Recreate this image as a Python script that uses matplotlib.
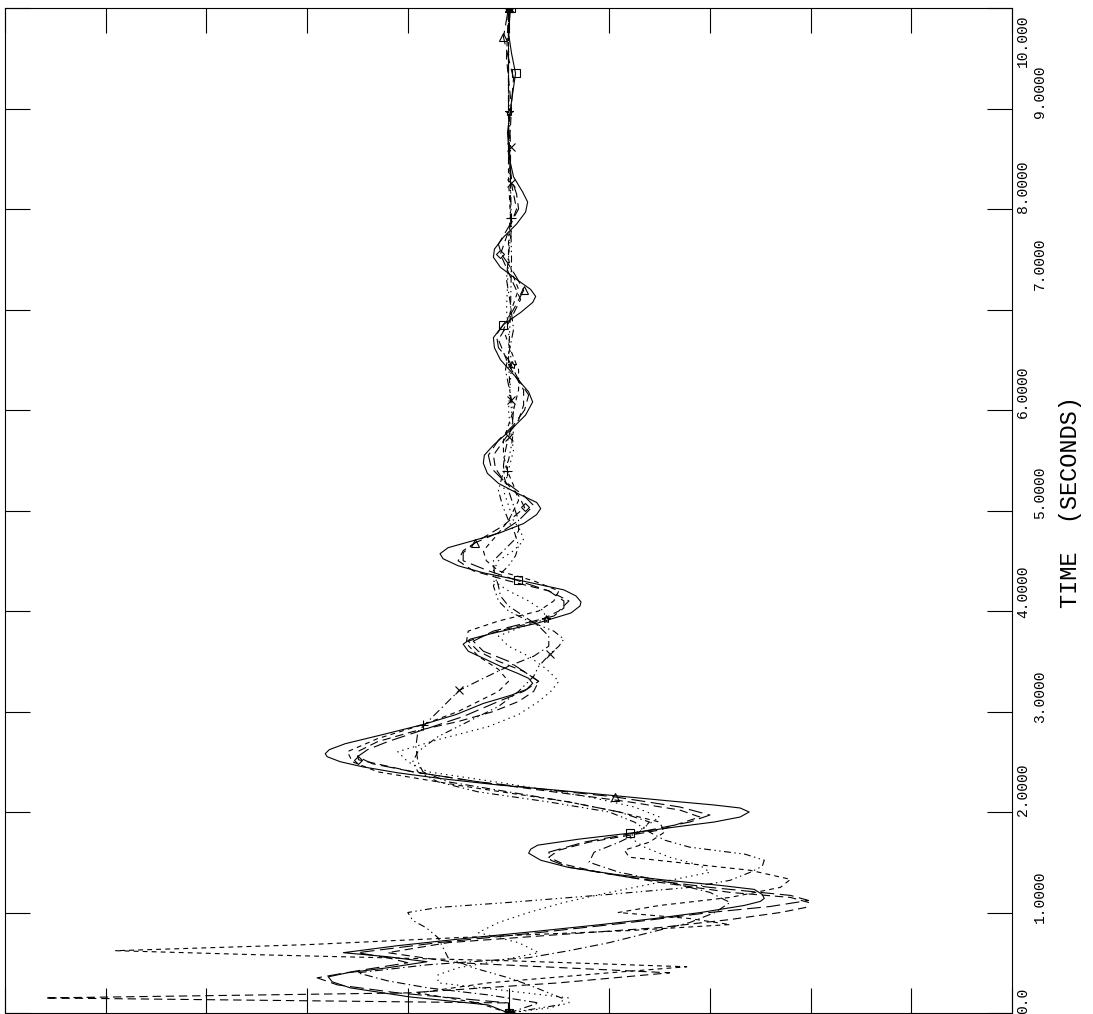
import matplotlib
matplotlib.use('Agg')
import matplotlib.pyplot as plt
import matplotlib.transforms as mtransforms

plt.rcParams['font.family'] = ['Liberation Mono', 'DejaVu Sans Mono']
plt.rcParams['lines.scale_dashes'] = False

# series 1: solid line, square symbols
t1 = [0.00, 0.08, 0.16, 0.25, 0.31, 0.36, 0.40, 0.45, 0.51, 0.56, 0.60, 0.67, 0.74, 0.81,
      0.88, 0.94, 1.00, 1.07, 1.11, 1.14, 1.18, 1.23, 1.27, 1.32, 1.38, 1.45, 1.52, 1.59,
      1.63, 1.67, 1.73, 1.79, 1.85, 1.90, 1.95, 2.00, 2.04, 2.07, 2.11, 2.16, 2.22, 2.27,
      2.33, 2.39, 2.45, 2.50, 2.55, 2.58, 2.62, 2.68, 2.77, 2.87, 2.97, 3.08, 3.16, 3.22,
      3.28, 3.33, 3.38, 3.45, 3.53, 3.60, 3.67, 3.72, 3.78, 3.88, 3.98, 4.05, 4.09, 4.15,
      4.21, 4.31, 4.38, 4.45, 4.52, 4.57, 4.63, 4.70, 4.78, 4.87, 4.96, 5.02, 5.08, 5.17,
      5.27, 5.37, 5.47, 5.55, 5.65, 5.80, 5.95, 6.08, 6.18, 6.32, 6.50, 6.62, 6.72, 6.85,
      6.97, 7.07, 7.13, 7.20, 7.30, 7.42, 7.52, 7.60, 7.72, 7.85, 7.97, 8.07, 8.17, 8.32,
      8.50, 8.76, 9.00, 9.35, 9.55, 9.75, 10.00]
x1 = [0.00, -0.20, -0.98, -1.57, -1.75, -1.79, -1.60, -1.20, -0.81, -1.20, -1.64, -1.10, -0.45, 0.25,
      0.92, 1.45, 1.91, 2.34, 2.50, 2.54, 2.52, 2.44, 2.10, 1.58, 1.05, 0.59, 0.32, 0.20,
      0.22, 0.29, 0.70, 1.21, 1.65, 2.04, 2.30, 2.39, 2.30, 2.04, 1.60, 1.08, 0.45, -0.11,
      -0.65, -1.10, -1.45, -1.67, -1.80, -1.82, -1.78, -1.62, -1.25, -0.85, -0.52, -0.25, 0.02, 0.18,
      0.24, 0.20, 0.09, -0.08, -0.25, -0.40, -0.45, -0.38, -0.15, 0.29, 0.62, 0.71, 0.72, 0.67,
      0.55, 0.09, -0.25, -0.50, -0.65, -0.68, -0.60, -0.35, -0.08, 0.15, 0.28, 0.32, 0.28, 0.09,
      -0.10, -0.21, -0.25, -0.24, -0.15, 0.02, 0.17, 0.24, 0.20, 0.08, -0.08, -0.14, -0.15, -0.05,
      0.12, 0.24, 0.27, 0.22, 0.08, -0.08, -0.15, -0.14, -0.05, 0.08, 0.17, 0.19, 0.14, 0.05,
      0.01, -0.01, 0.02, 0.07, 0.03, 0.00, 0.02]
m1 = [0.00, 1.79, 4.31, 6.85, 9.35, 10.00]

# series 2: long dash, triangles
t2 = [0.00, 0.10, 0.20, 0.28, 0.35, 0.42, 0.50, 0.55, 0.60, 0.70, 0.80, 0.90, 1.00, 1.06,
      1.12, 1.17, 1.25, 1.35, 1.45, 1.52, 1.60, 1.70, 1.80, 1.90, 1.97, 2.05, 2.15, 2.22,
      2.30, 2.40, 2.48, 2.55, 2.62, 2.70, 2.80, 2.95, 3.10, 3.20, 3.30, 3.40, 3.50, 3.60,
      3.70, 3.80, 3.95, 4.03, 4.10, 4.20, 4.30, 4.40, 4.50, 4.58, 4.68, 4.80, 4.90, 5.05,
      5.15, 5.30, 5.42, 5.55, 5.70, 5.85, 6.00, 6.15, 6.30, 6.50, 6.62, 6.75, 6.88, 7.00,
      7.19, 7.32, 7.45, 7.55, 7.65, 7.82, 8.00, 8.15, 8.30, 8.55, 8.80, 9.05, 9.30, 9.50,
      9.71, 10.00]
x2 = [0.00, 0.00, -1.10, -1.70, -1.90, -1.50, -1.00, -1.20, -1.50, -0.70, 0.30, 1.20, 2.00, 2.60,
      2.98, 2.80, 2.00, 1.20, 0.60, 0.42, 0.40, 0.75, 1.30, 1.80, 2.00, 1.70, 1.06, 0.40,
      -0.30, -0.95, -1.35, -1.50, -1.40, -1.20, -0.90, -0.45, -0.10, 0.15, 0.30, 0.15, 0.00, -0.25,
      -0.35, -0.15, 0.45, 0.55, 0.55, 0.40, 0.10, -0.20, -0.45, -0.45, -0.33, -0.05, 0.10, 0.25,
      0.15, -0.05, -0.17, -0.20, -0.10, 0.05, 0.16, 0.20, 0.10, 0.00, -0.10, -0.12, -0.03, 0.05,
      0.15, 0.08, 0.00, -0.07, -0.10, 0.00, 0.10, 0.08, 0.03, 0.00, 0.00, 0.03, 0.05, 0.00,
      -0.05, 0.00]
m2 = [0.00, 2.15, 4.68, 7.19, 9.71, 10.00]

# series 3: medium dash, diamonds
t3 = [0.00, 0.10, 0.15, 0.20, 0.30, 0.40, 0.50, 0.60, 0.70, 0.78, 0.85, 0.93, 1.00, 1.05,
      1.10, 1.15, 1.20, 1.30, 1.40, 1.48, 1.55, 1.62, 1.70, 1.82, 1.95, 2.02, 2.10, 2.20,
      2.30, 2.40, 2.52, 2.60, 2.70, 2.80, 2.90, 3.00, 3.10, 3.20, 3.30, 3.40, 3.50, 3.60,
      3.70, 3.80, 3.90, 4.00, 4.10, 4.20, 4.30, 4.40, 4.50, 4.60, 4.70, 4.85, 5.03, 5.15,
      5.30, 5.42, 5.55, 5.72, 5.90, 6.05, 6.20, 6.45, 6.70, 6.90, 7.10, 7.30, 7.55, 7.78,
      8.00, 8.25, 8.50, 9.00, 9.50, 10.00]
x3 = [0.00, 0.00, -4.60, -1.00, 0.50, 1.60, -0.50, -1.20, -0.60, 0.50, 1.50, 2.20, 2.70, 2.95,
      2.98, 2.80, 2.20, 1.50, 0.90, 0.55, 0.40, 0.50, 0.80, 1.50, 1.90, 1.70, 1.20, 0.45,
      -0.30, -0.95, -1.49, -1.50, -1.30, -0.95, -0.50, -0.15, 0.10, 0.25, 0.30, 0.15, -0.10, -0.30,
      -0.40, -0.10, 0.30, 0.50, 0.60, 0.40, 0.00, -0.35, -0.50, -0.45, -0.30, -0.05, 0.16, 0.10,
      -0.05, -0.13, -0.15, -0.03, 0.10, 0.15, 0.15, 0.00, -0.10, 0.02, 0.12, 0.03, -0.08, 0.00,
      0.08, 0.03, 0.00, 0.03, -0.02, 0.00]
m3 = [0.00, 2.52, 5.03, 7.55, 10.00]

# series 4: short dash, plus signs
t4 = [0.00, 0.10, 0.20, 0.30, 0.40, 0.46, 0.52, 0.58, 0.62, 0.68, 0.75, 0.82, 0.88, 0.94,
      1.00, 1.07, 1.15, 1.25, 1.33, 1.42, 1.55, 1.62, 1.70, 1.80, 1.90, 2.00, 2.10, 2.25,
      2.40, 2.50, 2.60, 2.73, 2.87, 3.00, 3.10, 3.20, 3.30, 3.42, 3.55, 3.68, 3.80, 3.90,
      4.00, 4.10, 4.20, 4.30, 4.40, 4.50, 4.60, 4.75, 4.90, 5.10, 5.25, 5.39, 5.55, 5.70,
      5.85, 6.00, 6.20, 6.40, 6.60, 6.80, 7.00, 7.20, 7.35, 7.50, 7.70, 7.91, 8.30, 9.00,
      10.00]
x4 = [0.00, -0.30, -0.90, -0.20, 1.00, 1.77, 0.00, -2.50, -3.90, -2.00, -0.50, 1.20, 2.20, 1.80,
      1.09, 1.50, 2.20, 2.70, 2.80, 2.40, 1.20, 1.15, 1.40, 1.55, 1.50, 1.10, 0.60, -0.40,
      -1.30, -1.55, -1.60, -1.30, -0.85, -0.50, -0.30, -0.10, 0.00, -0.10, -0.30, -0.42, -0.40, -0.10,
      0.30, 0.45, 0.50, 0.25, -0.10, -0.22, -0.25, -0.12, 0.00, 0.10, 0.05, -0.01, -0.05, -0.05,
      0.00, 0.05, 0.10, 0.10, 0.02, -0.05, 0.03, 0.10, 0.04, 0.00, 0.00, 0.02, 0.00, 0.00,
      0.00]
m4 = [0.00, 2.87, 5.39, 7.91, 10.00]

# series 5: dash-dot, crosses
t5 = [0.00, 0.10, 0.18, 0.25, 0.32, 0.40, 0.48, 0.55, 0.62, 0.70, 0.80, 0.90, 1.00, 1.10,
      1.20, 1.30, 1.40, 1.50, 1.60, 1.70, 1.80, 1.90, 2.00, 2.10, 2.20, 2.30, 2.40, 2.50,
      2.65, 2.80, 3.00, 3.21, 3.33, 3.45, 3.55, 3.65, 3.75, 3.85, 3.95, 4.05, 4.15, 4.25,
      4.38, 4.50, 4.60, 4.70, 4.80, 4.90, 5.05, 5.20, 5.32, 5.45, 5.60, 5.73, 5.87, 6.00,
      6.20, 6.40, 6.60, 6.80, 7.05, 7.30, 7.55, 7.80, 8.26, 9.00, 10.00]
x5 = [0.00, 0.30, -0.20, -0.80, -1.20, -1.50, -0.80, 0.20, 0.60, 1.00, 1.40, 1.80, 2.05, 2.20,
      2.00, 1.60, 1.10, 0.80, 0.85, 1.10, 1.30, 1.40, 1.10, 0.60, 0.00, -0.60, -0.85, -0.90,
      -0.92, -0.90, -0.70, -0.49, -0.25, 0.00, 0.25, 0.40, 0.40, 0.30, 0.15, 0.00, -0.08, -0.10,
      -0.14, -0.15, -0.05, 0.05, 0.10, 0.10, 0.05, 0.00, -0.04, -0.05, -0.03, 0.00, 0.04, 0.05,
      0.01, -0.03, 0.01, 0.05, 0.02, -0.02, 0.00, 0.03, 0.02, 0.00, 0.00]
m5 = [0.00, 3.21, 5.73, 8.26, 10.00]

# series 6: dash-dot-dot, crosses
t6 = [0.00, 0.08, 0.14, 0.20, 0.28, 0.35, 0.45, 0.55, 0.65, 0.75, 0.85, 0.92, 1.00, 1.05,
      1.10, 1.18, 1.25, 1.32, 1.40, 1.46, 1.52, 1.58, 1.65, 1.72, 1.80, 1.90, 2.00, 2.10,
      2.20, 2.30, 2.40, 2.50, 2.60, 2.75, 2.90, 3.05, 3.20, 3.35, 3.45, 3.57, 3.65, 3.72,
      3.80, 3.90, 4.00, 4.10, 4.25, 4.35, 4.45, 4.55, 4.65, 4.78, 4.90, 5.05, 5.20, 5.35,
      5.50, 5.65, 5.80, 6.10, 6.50, 7.00, 7.50, 8.00, 8.62, 9.20, 10.00]
x6 = [0.00, 0.50, 0.55, 0.40, 0.20, 0.00, -0.35, -0.60, -0.65, -0.70, -0.82, -0.95, -1.00, -0.70,
      0.00, 1.00, 1.80, 2.20, 2.40, 2.52, 2.54, 2.35, 1.80, 1.55, 1.40, 1.25, 1.00, 0.40,
      -0.30, -0.70, -0.90, -0.95, -0.90, -0.70, -0.40, -0.10, 0.10, 0.25, 0.30, 0.41, 0.50, 0.55,
      0.45, 0.20, 0.00, -0.10, -0.15, -0.10, 0.00, 0.07, 0.10, 0.06, 0.00, -0.06, -0.10, -0.06,
      0.00, 0.03, 0.05, 0.02, 0.00, 0.02, 0.03, 0.02, 0.02, 0.00, 0.00]
m6 = [0.00, 3.57, 6.10, 8.62, 10.00]

# series 7: dotted, stars
t7 = [0.00, 0.05, 0.10, 0.15, 0.22, 0.30, 0.38, 0.45, 0.52, 0.60, 0.70, 0.80, 0.90, 1.00,
      1.10, 1.20, 1.30, 1.40, 1.47, 1.55, 1.65, 1.75, 1.85, 1.95, 2.05, 2.15, 2.28, 2.40,
      2.50, 2.60, 2.72, 2.85, 2.97, 3.10, 3.20, 3.30, 3.42, 3.55, 3.65, 3.75, 3.83, 3.92,
      4.00, 4.10, 4.20, 4.30, 4.40, 4.50, 4.60, 4.70, 4.80, 4.90, 5.05, 5.20, 5.40, 5.60,
      5.80, 6.00, 6.45, 7.00, 7.50, 8.00, 8.97, 10.00]
x7 = [0.00, 0.40, 0.60, 0.60, 0.00, -0.70, -0.70, -0.50, -0.10, 0.30, 0.10, -0.30, -0.10, 0.20,
      0.55, 1.00, 1.50, 2.00, 1.90, 1.60, 1.35, 1.20, 1.35, 1.50, 1.25, 0.80, 0.00, -0.80,
      -1.00, -1.10, -0.70, -0.20, 0.10, 0.30, 0.42, 0.50, 0.38, 0.20, 0.00, -0.10, 0.10, 0.37,
      0.35, 0.20, 0.00, -0.15, -0.15, -0.10, 0.05, 0.15, 0.12, 0.05, 0.00, -0.05, 0.00, 0.05,
      0.02, 0.00, 0.03, -0.02, 0.00, 0.02, 0.00, 0.00]
m7 = [0.00, 3.92, 6.45, 8.97, 10.00]

time_ticks = [0, 1, 2, 3, 4, 5, 6, 7, 8, 9, 10]
time_labels = ['0.0', '1.0000', '2.0000', '3.0000', '4.0000', '5.0000',
               '6.0000', '7.0000', '8.0000', '9.0000', '10.000']

series = [(t1, x1, m1), (t2, x2, m2), (t3, x3, m3), (t4, x4, m4),
          (t5, x5, m5), (t6, x6, m6), (t7, x7, m7)]
dash_styles = ['-', (0, (10, 4)), (0, (6, 3.5)), (0, (3.5, 3)),
               (0, (6, 2.5, 1, 2.5)), (0, (5, 2.5, 1, 2.5, 1, 2.5)), (0, (1, 3))]
symbols = ['s', '^', 'D', '+', 'x', 'x', '*']
symbol_sizes = [6, 6, 4.5, 7, 6, 6, 6]

fig = plt.figure(figsize=(10.93, 10.14), dpi=100)
ax = fig.add_axes([5 / 1093, 1.0 / 1014, 1007 / 1093, 1005 / 1014])

for (tt, xx, mk), ls, sym, ms in zip(series, dash_styles, symbols, symbol_sizes):
    # symbols sit on the data points at the listed times
    idx = [tt.index(v) for v in mk]
    ax.plot(xx, tt, color='black', lw=0.8, linestyle=ls)
    ax.plot(xx, tt, linestyle='none', marker=sym, ms=ms, mfc='none',
            mec='black', mew=0.8, markevery=idx)

ax.set_xlim(-5, 5)
ax.set_ylim(0, 10)
ax.set_xticks(range(-5, 6))
ax.set_yticks(time_ticks)
ax.tick_params(direction='in', length=18, width=0.8, top=True, right=True,
               labelbottom=False, labelleft=False)
for s in ax.spines.values():
    s.set_linewidth(0.8)

# staggered, rotated time labels to the right of the frame
label_x = [1.011, 1.028]
label_shift = [0.12, 0.16, 0.22, 0.15, 0.19, 0.18, 0.18, 0.46, 0.22, 0.17, -0.33]
trans = mtransforms.blended_transform_factory(ax.transAxes, ax.transData)
for i, (v, lab) in enumerate(zip(time_ticks, time_labels)):
    ax.text(label_x[i % 2], v + label_shift[i], lab, transform=trans, rotation=90,
            ha='center', va='center', fontsize=10.5, clip_on=False)

ax.text(1.058, 0.508, 'TIME  (SECONDS)', transform=ax.transAxes, rotation=90,
        ha='center', va='center', fontsize=17)

fig.savefig('out.png', dpi=100)
